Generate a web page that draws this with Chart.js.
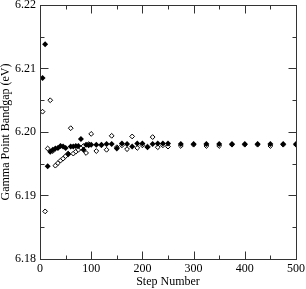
<!DOCTYPE html>
<html>
<head>
<meta charset="utf-8">
<script src="https://cdn.jsdelivr.net/npm/chart.js@4/dist/chart.umd.min.js"></script>
<style>
    html, body { margin: 0; padding: 0; background: #fff; }
    #wrap { width: 306px; height: 289px; }
</style>
</head>
<body>
<div id="wrap"><canvas id="gapChart" width="306" height="289"></canvas></div>
<script>
// Step numbers (same for both series)
const steps = [5, 10, 15, 20, 25, 30, 35, 40, 45, 50, 55, 60, 65, 70, 75, 80, 85, 90, 95, 100,
    110, 120, 130, 140, 150, 160, 170, 180, 190, 200, 210, 220, 230, 240, 250,
    275, 300, 325, 350, 375, 400, 425, 450, 475, 500];

// Filled diamonds
const filledGap = [6.2085, 6.2138, 6.1946, 6.1969, 6.1972, 6.1974, 6.1975, 6.1978, 6.1977, 6.1975,
    6.1965, 6.1977, 6.1977, 6.1978, 6.1978, 6.1989, 6.1972, 6.1980, 6.1979, 6.1980,
    6.1980, 6.1980, 6.1981, 6.1981, 6.1974, 6.1982, 6.1981, 6.1977, 6.1982, 6.1982,
    6.1976, 6.1981, 6.1982, 6.1982, 6.1982,
    6.1981, 6.1981, 6.1981, 6.1981, 6.1981, 6.1981, 6.1981, 6.1981, 6.1981, 6.1981];

// Open diamonds
const openGap = [6.2032, 6.1875, 6.1974, 6.2050, 6.1970, 6.1947, 6.1951, 6.1955, 6.1958, 6.1962,
    6.1966, 6.2006, 6.1966, 6.1969, 6.1972, 6.1975, 6.1978, 6.1967, 6.1981, 6.1997,
    6.1970, 6.1979, 6.1972, 6.1994, 6.1976, 6.1979, 6.1973, 6.1993, 6.1975, 6.1979,
    6.1977, 6.1992, 6.1976, 6.1979, 6.1977,
    6.1978, 6.1980, 6.1978, 6.1978, 6.1980, 6.1980, 6.1980, 6.1978, 6.1980, 6.1980];

const xMajor = [0, 100, 200, 300, 400, 500];
const xMinor = [50, 150, 250, 350, 450];
const yMajor = [6.18, 6.19, 6.20, 6.21, 6.22];
const yMinor = [6.185, 6.195, 6.205, 6.215];

const yTitle = 'Gamma Point Bandgap (eV)';
const serif = "'Liberation Serif', 'DejaVu Serif', serif";

// frame, inward ticks on all four sides, y title
const framePlugin = {
    id: 'frame',
    afterDatasetsDraw(chart) {
        const c = chart.ctx;
        const a = chart.chartArea;
        const xs = chart.scales.x, ys = chart.scales.y;
        const L = Math.round(a.left) + 0.5, R = Math.round(a.right) + 0.5;
        const T = Math.round(a.top) + 0.5, B = Math.round(a.bottom) + 0.5;
        c.save();
        c.strokeStyle = '#333';
        c.lineWidth = 1;
        c.strokeRect(L, T, R - L, B - T);
        c.beginPath();
        const xt = (v, len) => {
            const p = Math.round(xs.getPixelForValue(v)) + 0.5;
            c.moveTo(p, B); c.lineTo(p, B - len);
            c.moveTo(p, T); c.lineTo(p, T + len);
        };
        const yt = (v, len) => {
            const p = Math.round(ys.getPixelForValue(v)) + 0.5;
            c.moveTo(L, p); c.lineTo(L + len, p);
            c.moveTo(R, p); c.lineTo(R - len, p);
        };
        xMajor.forEach(v => xt(v, 8));
        xMinor.forEach(v => xt(v, 4));
        yMajor.forEach(v => yt(v, 8));
        yMinor.forEach(v => yt(v, 4));
        c.stroke();

        c.translate(6, (a.top + a.bottom) / 2);
        c.rotate(-Math.PI / 2);
        c.fillStyle = '#000';
        c.font = '12px ' + serif;
        c.textAlign = 'center';
        c.textBaseline = 'middle';
        c.fillText(yTitle, 0, 0);
        c.restore();
    }
};

new Chart(document.getElementById('gapChart'), {
    type: 'scatter',
    data: {
        datasets: [{
            label: 'filled',
            data: steps.map((s, i) => ({ x: s, y: filledGap[i] })),
            pointStyle: 'rectRot',
            pointRadius: 3,
            backgroundColor: '#000',
            borderColor: '#000',
            borderWidth: 0
        }, {
            label: 'open',
            data: steps.map((s, i) => ({ x: s, y: openGap[i] })),
            pointStyle: 'rectRot',
            pointRadius: 2.4,
            backgroundColor: '#fff',
            borderColor: '#000',
            borderWidth: 1
        }]
    },
    options: {
        responsive: false,
        animation: false,
        layout: { padding: { top: 5, right: 10, left: 0, bottom: 0 } },
        plugins: { legend: { display: false }, tooltip: { enabled: false } },
        scales: {
            x: {
                type: 'linear', min: 0, max: 500,
                grid: { display: false, drawTicks: false },
                border: { display: false },
                ticks: { stepSize: 100, color: '#000', padding: 3, font: { family: serif, size: 12 } },
                title: { display: true, text: 'Step Number', color: '#000', padding: 0, font: { family: serif, size: 12 } },
                afterFit: s => { s.height = 30; s.paddingLeft = 0; s.paddingRight = 0; }
            },
            y: {
                min: 6.18, max: 6.22,
                grid: { display: false, drawTicks: false },
                border: { display: false },
                ticks: {
                    stepSize: 0.01, color: '#000', padding: 4,
                    font: { family: serif, size: 12 },
                    callback: v => v.toFixed(2)
                },
                afterFit: s => { s.width = 40; s.paddingTop = 0; s.paddingBottom = 0; }
            }
        }
    },
    plugins: [framePlugin]
});
</script>
</body>
</html>
